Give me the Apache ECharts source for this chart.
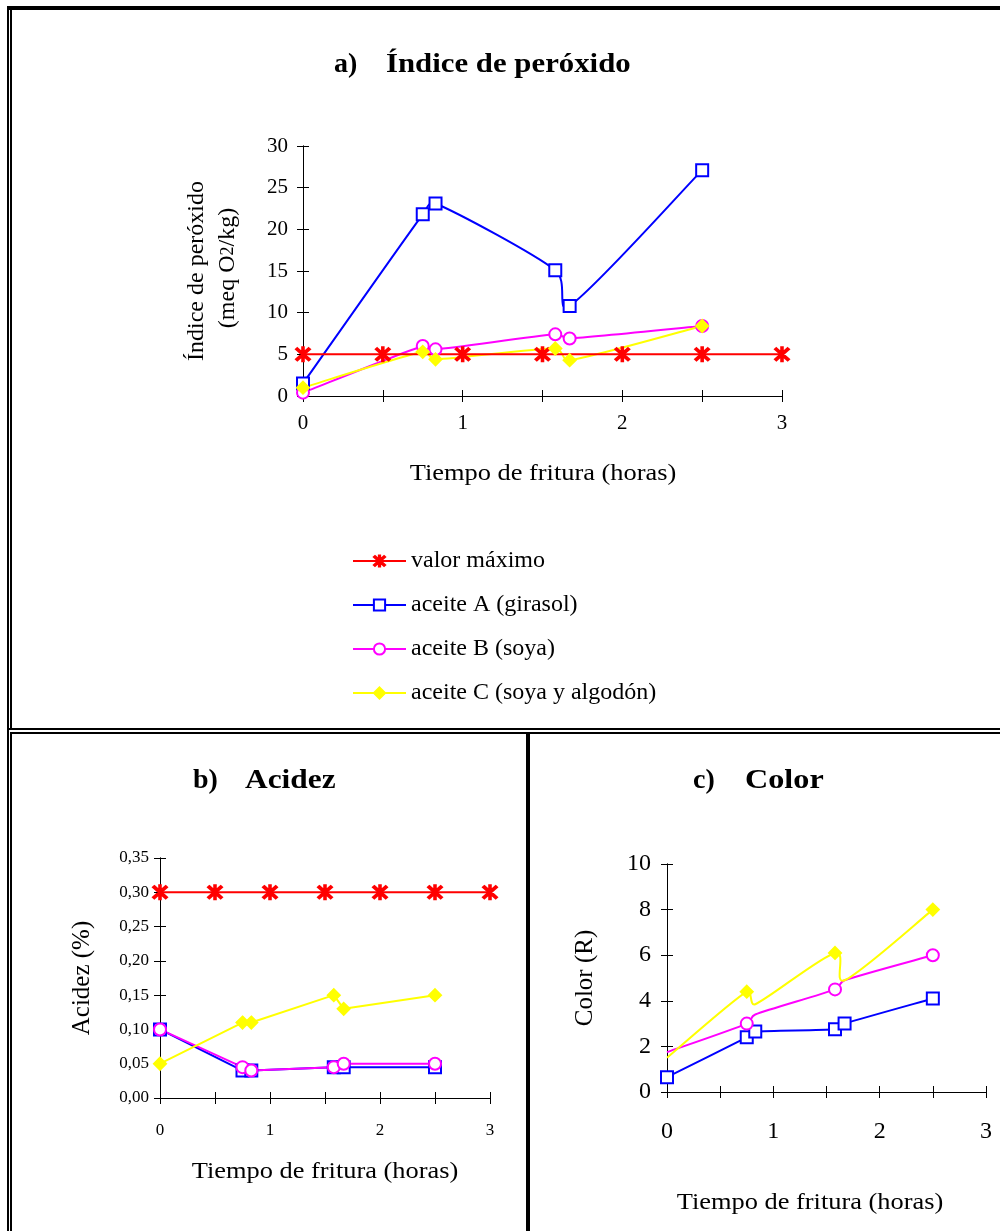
<!DOCTYPE html>
<html>
<head>
<meta charset="utf-8">
<script src="https://cdn.jsdelivr.net/npm/echarts@6/dist/echarts.min.js"></script>
<style>
  html, body { margin: 0; padding: 0; background: #fff; }
  #main { width: 1000px; height: 1231px; }
</style>
</head>
<body>
<div id="main"></div>
<script>
// tiempos de muestreo (horas)
const tiempo = [0, 0.75, 0.83, 1.58, 1.67, 2.5]
const tiempoMax = [0, 0.5, 1, 1.5, 2, 2.5, 3]

// a) indice de peroxido (meq O2/kg)
const peroxMax = [5, 5, 5, 5, 5, 5, 5]
const peroxA = [1.5, 21.8, 23.1, 15.1, 10.8, 27.1]
const peroxB = [0.4, 6.0, 5.6, 7.4, 6.9, 8.4]
const peroxC = [1.0, 5.3, 4.4, 5.7, 4.3, 8.4]

// b) acidez (%)
const acidezMax = [0.3, 0.3, 0.3, 0.3, 0.3, 0.3, 0.3]
const acidezA = [0.10, 0.04, 0.04, 0.045, 0.045, 0.045]
const acidezB = [0.10, 0.045, 0.04, 0.045, 0.05, 0.05]
const acidezC = [0.05, 0.11, 0.11, 0.15, 0.13, 0.15]

// c) color (R)
const colorA = [0.65, 2.4, 2.65, 2.75, 3.0, 4.1]
const colorB = [1.75, 3.0, 3.4, 4.5, 4.9, 6.0]
const colorC = [1.5, 4.4, 3.85, 6.1, 4.9, 8.0]
const colorMarcaBC = [false, true, false, true, false, true] // puntos con marcador en B y C

const nombres = ['valor máximo', 'aceite A (girasol)', 'aceite B (soya)', 'aceite C (soya y algodón)']

const FONT = 'Liberation Serif'
const ROJO = '#ff0000', AZUL = '#0000ff', MAGENTA = '#ff00ff', AMARILLO = '#ffff00'
const ASTERISCO = 'path://M45 0L55 0L55 100L45 100Z M14.24 5.76L94.24 85.76L85.76 94.24L5.76 14.24Z M85.76 5.76L94.24 14.24L14.24 94.24L5.76 85.76Z'

const pares = (xs, ys) => xs.map((x, i) => [x, ys[i]])

// serie de marcadores (la linea se dibuja recta o con la curva suavizada aparte)
function serie(nombre, xi, xs, ys, color, simbolo, marcas, conLinea) {
  return {
    name: nombre,
    type: 'line',
    xAxisIndex: xi,
    yAxisIndex: xi,
    smooth: false,
    clip: false,
    symbol: simbolo,
    symbolSize: simbolo === ASTERISCO ? 14 : 12,
    lineStyle: { color: color, width: 2, opacity: conLinea ? 1 : 0 },
    itemStyle: { color: color, borderColor: color, borderWidth: 2 },
    data: pares(xs, ys).map((p, i) => (marcas && !marcas[i]) ? { value: p, symbol: 'none' } : p),
    z: 3
  }
}

// curva suavizada tipo Excel (Catmull-Rom con tangentes limitadas) en pixeles
function curva(xi, xs, ys, color) {
  const limita = (vx, vy, seg) => {
    const l = Math.hypot(vx, vy), m = seg * 0.45
    return l > m ? [vx * m / l, vy * m / l] : [vx, vy]
  }
  return {
    type: 'custom',
    xAxisIndex: xi,
    yAxisIndex: xi,
    silent: true,
    z: 2,
    data: [[xs[0], ys[0]]],
    renderItem: (params, api) => {
      const p = xs.map((x, i) => api.coord([x, ys[i]]))
      let d = `M${p[0][0]} ${p[0][1]}`
      for (let i = 0; i < p.length - 1; i++) {
        const p0 = p[i - 1] || p[i], p1 = p[i], p2 = p[i + 1], p3 = p[i + 2] || p[i + 1]
        const seg = Math.hypot(p2[0] - p1[0], p2[1] - p1[1])
        const t1 = limita((p2[0] - p0[0]) / 6, (p2[1] - p0[1]) / 6, seg)
        const t2 = limita((p3[0] - p1[0]) / 6, (p3[1] - p1[1]) / 6, seg)
        d += ` C${p1[0] + t1[0]} ${p1[1] + t1[1]} ${p2[0] - t2[0]} ${p2[1] - t2[1]} ${p2[0]} ${p2[1]}`
      }
      return { type: 'path', shape: { pathData: d }, style: { fill: 'none', stroke: color, lineWidth: 2 } }
    }
  }
}

function ejes(gi, ymin, ymax, yint, yfmt, fx, fy, mx, my) {
  const lin = { show: true, lineStyle: { color: '#000', width: 1 } }
  const tick = { show: true, length: 6, lineStyle: { color: '#000' } }
  const xs = [
    {
      gridIndex: gi, type: 'value', min: 0, max: 3, interval: 0.5, position: 'bottom',
      axisLine: lin, axisTick: tick, splitLine: { show: false },
      axisLabel: { margin: mx, fontFamily: FONT, fontSize: fx, color: '#000',
        formatter: v => Number.isInteger(v) ? String(v) : '' }
    },
    {
      gridIndex: gi, type: 'value', min: 0, max: 3, interval: 0.5, position: 'bottom',
      axisLine: lin, axisTick: { ...tick, inside: true },
      splitLine: { show: false }, axisLabel: { show: false }
    }
  ]
  const ys = [
    {
      gridIndex: gi, type: 'value', min: ymin, max: ymax, interval: yint, position: 'left',
      axisLine: lin, axisTick: tick, splitLine: { show: false },
      axisLabel: { margin: my, fontFamily: FONT, fontSize: fy, color: '#000', formatter: yfmt }
    },
    {
      gridIndex: gi, type: 'value', min: ymin, max: ymax, interval: yint, position: 'left',
      axisLine: lin, axisTick: { ...tick, inside: true },
      splitLine: { show: false }, axisLabel: { show: false }
    }
  ]
  return { xs, ys }
}

const ea = ejes(0, 0, 30, 5, v => String(v), 21, 21, 17, 15)
const eb = ejes(1, 0, 0.35, 0.05, v => v.toFixed(2).replace('.', ','), 17, 17, 24, 11)
const ec = ejes(2, 0, 10, 2, v => String(v), 24, 24, 28, 16)

function texto(t, x, y, size, extra, sx) {
  return {
    type: 'text', x: x, y: y, scaleX: sx || 1, silent: true,
    style: Object.assign({ text: t, fontFamily: FONT, fontSize: size, fill: '#000', align: 'center', verticalAlign: 'middle' }, extra || {})
  }
}
function vertical(t, x, y, size, rich) {
  return {
    type: 'text', x: x, y: y, rotation: Math.PI / 2, silent: true,
    style: { text: t, fontFamily: FONT, fontSize: size, fill: '#000', align: 'center', verticalAlign: 'middle', rich: rich }
  }
}
const caja = (x, y, w, h) => ({ type: 'rect', silent: true, shape: { x, y, width: w, height: h }, style: { fill: '#000' } })
const negrita = { align: 'left', fontWeight: 'bold' }

const chart = echarts.init(document.getElementById('main'))
chart.setOption({
  animation: false,
  backgroundColor: '#fff',
  grid: [
    { left: 303, top: 146, width: 479, height: 250 },
    { left: 160, top: 858, width: 330, height: 240 },
    { left: 667, top: 864, width: 319, height: 228 }
  ],
  xAxis: [ea.xs[0], ea.xs[1], eb.xs[0], eb.xs[1], ec.xs[0], ec.xs[1]],
  yAxis: [ea.ys[0], ea.ys[1], eb.ys[0], eb.ys[1], ec.ys[0], ec.ys[1]],
  legend: {
    orient: 'vertical', left: 347, top: 544, itemWidth: 53, itemHeight: 14, itemGap: 20,
    data: nombres,
    lineStyle: { opacity: 1, width: 2 },
    textStyle: { fontFamily: FONT, fontSize: 24, color: '#000' }
  },
  series: [
    curva(0, tiempo, peroxA, AZUL),
    curva(0, tiempo, peroxB, MAGENTA),
    curva(0, tiempo, peroxC, AMARILLO),
    serie(nombres[0], 0, tiempoMax, peroxMax, ROJO, ASTERISCO, null, true),
    serie(nombres[1], 0, tiempo, peroxA, AZUL, 'emptyRect'),
    serie(nombres[2], 0, tiempo, peroxB, MAGENTA, 'emptyCircle'),
    serie(nombres[3], 0, tiempo, peroxC, AMARILLO, 'diamond'),
    serie(nombres[0], 2, tiempoMax, acidezMax, ROJO, ASTERISCO, null, true),
    serie(nombres[1], 2, tiempo, acidezA, AZUL, 'emptyRect', null, true),
    serie(nombres[2], 2, tiempo, acidezB, MAGENTA, 'emptyCircle', null, true),
    serie(nombres[3], 2, tiempo, acidezC, AMARILLO, 'diamond', null, true),
    curva(4, tiempo, colorA, AZUL),
    curva(4, tiempo, colorB, MAGENTA),
    curva(4, tiempo, colorC, AMARILLO),
    serie(nombres[1], 4, tiempo, colorA, AZUL, 'emptyRect'),
    serie(nombres[2], 4, tiempo, colorB, MAGENTA, 'emptyCircle', colorMarcaBC),
    serie(nombres[3], 4, tiempo, colorC, AMARILLO, 'diamond', colorMarcaBC)
  ],
  graphic: [
    // marcos
    caja(7, 6, 993, 4),
    caja(7, 6, 2, 1225),
    caja(10, 6, 2, 722),
    caja(10, 733, 2, 498),
    caja(7, 728, 993, 2),
    caja(10, 732, 990, 2),
    caja(526, 733, 4, 498),
    // titulos
    texto('a)', 334, 65, 28, negrita),
    texto('Índice de peróxido', 386, 65, 28, negrita, 1.1),
    texto('b)', 193, 781, 28, negrita),
    texto('Acidez', 245, 781, 28, negrita, 1.12),
    texto('c)', 693, 781, 28, negrita),
    texto('Color', 745, 781, 28, negrita, 1.15),
    // nombres de ejes
    vertical('Índice de peróxido', 197, 271, 24),
    vertical('(meq O{s|2}/kg)', 228, 268, 24, { s: { fontFamily: FONT, fontSize: 18, fill: '#000' } }),
    texto('Tiempo de fritura (horas)', 543, 474, 24, null, 1.1),
    vertical('Acidez (%)', 82, 978, 25),
    texto('Tiempo de fritura (horas)', 325, 1172, 24, null, 1.1),
    vertical('Color (R)', 585, 978, 25),
    texto('Tiempo de fritura (horas)', 810, 1203, 24, null, 1.1)
  ]
})
</script>
</body>
</html>
